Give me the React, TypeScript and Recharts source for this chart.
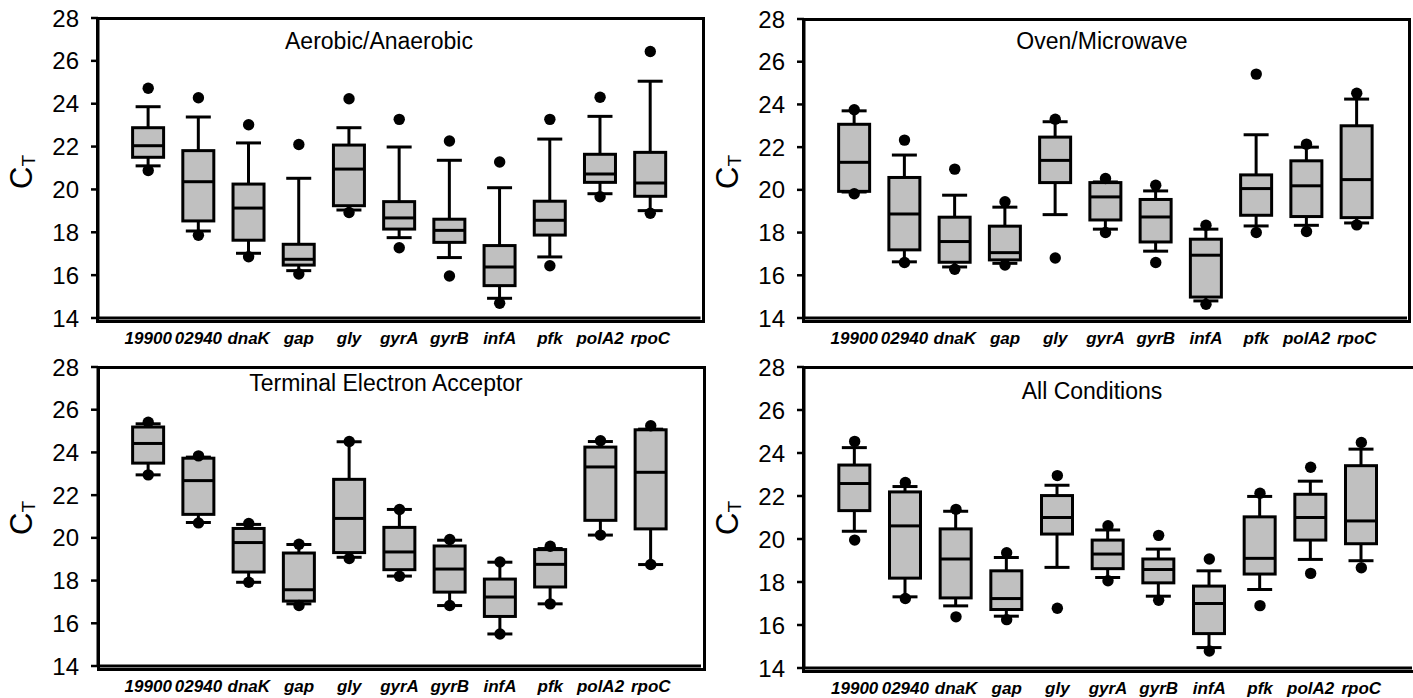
import React from 'react';
import { ComposedChart, XAxis, YAxis, Bar, Scatter } from 'recharts';

// gene targets along the x axis
const genes = ['19900', '02940', 'dnaK', 'gap', 'gly', 'gyrA', 'gyrB', 'infA', 'pfk', 'polA2', 'rpoC'];
const yTicks = [14, 16, 18, 20, 22, 24, 26, 28];

// Aerobic/Anaerobic
const aeroOutHigh = [24.72, 24.28, 23.02, 22.1, 24.23, 23.27, 22.26, 21.28, 23.27, 24.3, 26.44];
const aeroHigh = [23.86, 23.38, 22.17, 20.52, 22.88, 21.98, 21.36, 20.08, 22.35, 23.41, 25.05];
const aeroQ3 = [22.88, 21.81, 20.25, 17.44, 22.07, 19.43, 18.61, 17.38, 19.45, 21.64, 21.73];
const aeroMed = [22.04, 20.36, 19.13, 16.74, 20.95, 18.67, 18.09, 16.38, 18.56, 20.72, 20.3];
const aeroQ1 = [21.5, 18.53, 17.63, 16.47, 19.24, 18.15, 17.53, 15.51, 17.87, 20.33, 19.68];
const aeroLow = [21.1, 18.06, 17.02, 16.21, 19.04, 17.75, 16.82, 14.92, 16.85, 19.8, 19.01];
const aeroOutLow = [20.88, 17.86, 16.86, 16.05, 18.92, 17.28, 15.96, 14.69, 16.44, 19.66, 18.89];

// Oven/Microwave
const ovenOutHigh = [23.75, 22.33, 20.97, 19.44, 23.31, 20.53, 20.22, 18.34, 25.42, 22.14, 24.52];
const ovenHigh = [23.7, 21.63, 19.75, 19.19, 23.19, 20.37, 19.95, 18.16, 22.58, 22.0, 24.25];
const ovenQ3 = [23.07, 20.58, 18.72, 18.3, 22.47, 20.34, 19.55, 17.69, 20.7, 21.36, 23.0];
const ovenMed = [21.29, 18.87, 17.58, 17.06, 21.38, 19.67, 18.73, 16.94, 20.06, 20.19, 20.48];
const ovenQ1 = [19.93, 17.19, 16.61, 16.72, 20.34, 18.59, 17.56, 14.98, 18.81, 18.75, 18.7];
const ovenLow = [19.9, 16.63, 16.39, 16.56, 18.84, 18.16, 17.13, 14.8, 18.31, 18.34, 18.45];
const ovenOutLow = [19.82, 16.6, 16.28, 16.48, 16.81, 18.0, 16.6, 14.64, 18.0, 18.05, 18.36];

// Terminal Electron Acceptor
const teaOutHigh = [25.41, 23.84, 20.67, 19.7, 24.51, 21.33, 19.92, 18.87, 19.61, 24.55, 25.25];
const teaHigh = [25.34, 23.78, 20.63, 19.69, 24.5, 21.33, 19.89, 18.86, 19.5, 24.51, 25.09];
const teaQ3 = [25.19, 23.73, 20.44, 19.29, 22.74, 20.49, 19.62, 18.07, 19.45, 24.25, 25.06];
const teaMed = [24.42, 22.68, 19.78, 17.57, 20.91, 19.34, 18.54, 17.23, 18.76, 23.32, 23.07];
const teaQ1 = [23.5, 21.1, 18.4, 17.04, 19.31, 18.51, 17.46, 16.32, 17.7, 20.82, 20.42];
const teaLow = [22.95, 20.72, 17.92, 16.91, 19.09, 18.21, 16.83, 15.5, 16.91, 20.13, 18.75];
const teaOutLow = [22.95, 20.7, 17.92, 16.83, 19.03, 18.2, 16.83, 15.5, 16.91, 20.13, 18.75];

// All Conditions
const allOutHigh = [24.54, 22.63, 21.38, 19.36, 22.95, 20.62, 20.17, 19.07, 22.13, 23.34, 24.49];
const allHigh = [24.25, 22.44, 21.29, 19.14, 22.5, 20.42, 19.53, 18.52, 21.98, 22.69, 24.18];
const allQ3 = [23.44, 22.19, 20.47, 18.52, 22.02, 19.95, 19.07, 17.81, 21.03, 22.08, 23.41];
const allMed = [22.58, 20.61, 19.07, 17.23, 21.0, 19.3, 18.58, 17.0, 19.1, 21.0, 20.84];
const allQ1 = [21.32, 18.18, 17.26, 16.72, 20.23, 18.62, 17.96, 15.6, 18.37, 19.95, 19.78];
const allLow = [20.36, 17.31, 16.89, 16.41, 18.68, 18.21, 17.34, 14.95, 17.65, 19.05, 18.99];
const allOutLow = [19.95, 17.23, 16.38, 16.25, 16.78, 18.06, 17.15, 14.79, 16.9, 18.4, 18.66];

const FONT = '"Liberation Sans", Arial, Helvetica, sans-serif';

function buildRows(outHigh: number[], high: number[], q3: number[], med: number[], q1: number[], low: number[], outLow: number[]) {
    return genes.map((name, i) => ({
        name,
        outHigh: outHigh[i],
        high: high[i],
        q3: q3[i],
        med: med[i],
        q1: q1[i],
        low: low[i],
        outLow: outLow[i],
    }));
}

// the bar spans low..high whisker; scale for the inner values comes from its pixel extent
const BoxShape = (props: any) => {
    const { x, y, width, height, payload } = props;
    if (!payload || height == null) return null;
    const top = Math.min(y, y + height);
    const h = Math.abs(height);
    const per = h / (payload.high - payload.low);
    const py = (v: number) => top + (payload.high - v) * per;
    const cx = x + width / 2;
    const capW = 25;
    const boxW = 31;
    return (
        <g>
            <line x1={cx} x2={cx} y1={py(payload.high)} y2={py(payload.q3)} stroke="#000" strokeWidth={3} />
            <line x1={cx} x2={cx} y1={py(payload.q1)} y2={py(payload.low)} stroke="#000" strokeWidth={3} />
            <line x1={cx - capW / 2} x2={cx + capW / 2} y1={py(payload.high)} y2={py(payload.high)} stroke="#000" strokeWidth={3} />
            <line x1={cx - capW / 2} x2={cx + capW / 2} y1={py(payload.low)} y2={py(payload.low)} stroke="#000" strokeWidth={3} />
            <rect x={cx - boxW / 2} y={py(payload.q3)} width={boxW} height={py(payload.q1) - py(payload.q3)} fill="#c0c0c0" stroke="#000" strokeWidth={3} />
            <line x1={cx - boxW / 2} x2={cx + boxW / 2} y1={py(payload.med)} y2={py(payload.med)} stroke="#000" strokeWidth={3} />
        </g>
    );
};

const DotShape = (props: any) => {
    if (props.cx == null || props.cy == null) return null;
    return <circle cx={props.cx} cy={props.cy} r={5.7} fill="#000" />;
};

interface PanelProps {
    plotLeft: number;
    plotTop: number;
    plotW: number;
    plotH: number;
    rows: any[];
    title: string;
    titleX: number;
    titleY: number;
}

function Panel({ plotLeft, plotTop, plotW, plotH, rows, title, titleX, titleY }: PanelProps) {
    const chartW = plotW + 97 + 6;
    const chartH = plotH + 18 + 30;
    const pad = plotW / 24;
    return (
        <>
            <div style={{ position: 'absolute', left: plotLeft - 97, top: plotTop - 18, width: chartW, height: chartH }}>
                <ComposedChart width={chartW} height={chartH} data={rows} margin={{ top: 18, right: 6, left: 37, bottom: 0 }}>
                    <XAxis
                        dataKey="name"
                        type="category"
                        interval={0}
                        padding={{ left: pad, right: pad }}
                        height={30}
                        tickLine={false}
                        tickSize={0}
                        tickMargin={14}
                        axisLine={{ stroke: '#000', strokeWidth: 3 }}
                        tick={{ fontSize: 17, fontWeight: 'bold', fontStyle: 'italic', fill: '#000', fontFamily: FONT }}
                    />
                    <YAxis
                        type="number"
                        domain={[14, 28]}
                        ticks={yTicks}
                        allowDataOverflow
                        width={60}
                        tickSize={7}
                        tickMargin={12}
                        axisLine={{ stroke: '#000', strokeWidth: 3 }}
                        tickLine={{ stroke: '#000', strokeWidth: 2.5 }}
                        tick={{ fontSize: 24, fill: '#000', fontFamily: FONT }}
                    />
                    <Bar dataKey={(d: any) => [d.low, d.high]} barSize={32} isAnimationActive={false} shape={BoxShape} />
                    <Scatter dataKey="outHigh" isAnimationActive={false} shape={DotShape} />
                    <Scatter dataKey="outLow" isAnimationActive={false} shape={DotShape} />
                </ComposedChart>
            </div>
            {/* frame around the plot area */}
            <div style={{ position: 'absolute', left: plotLeft - 1.5, top: plotTop - 1.5, width: plotW, height: plotH, border: '3px solid #000', boxSizing: 'content-box', pointerEvents: 'none' }} />
            <div style={{ position: 'absolute', left: titleX, top: titleY, transform: 'translate(-50%, -50%)', whiteSpace: 'nowrap', fontFamily: FONT, fontSize: 23, color: '#000' }}>
                {title}
            </div>
        </>
    );
}

function YLabel({ x, y }: { x: number; y: number }) {
    return (
        <div style={{ position: 'absolute', left: x, top: y, transform: 'translate(-50%, -50%) rotate(-90deg)', whiteSpace: 'nowrap', fontFamily: FONT, fontSize: 31, color: '#000', lineHeight: 1 }}>
            C<span style={{ fontSize: 19, position: 'relative', top: 3 }}>T</span>
        </div>
    );
}

export default function App() {
    const aero = buildRows(aeroOutHigh, aeroHigh, aeroQ3, aeroMed, aeroQ1, aeroLow, aeroOutLow);
    const oven = buildRows(ovenOutHigh, ovenHigh, ovenQ3, ovenMed, ovenQ1, ovenLow, ovenOutLow);
    const tea = buildRows(teaOutHigh, teaHigh, teaQ3, teaMed, teaQ1, teaLow, teaOutLow);
    const all = buildRows(allOutHigh, allHigh, allQ3, allMed, allQ1, allLow, allOutLow);

    return (
        <div style={{ position: 'absolute', left: 0, top: 0, width: 1413, height: 698, background: '#fff', overflow: 'hidden' }}>
            <Panel plotLeft={97.5} plotTop={18} plotW={602.5} plotH={300} rows={aero} title="Aerobic/Anaerobic" titleX={379} titleY={41} />
            <Panel plotLeft={803.5} plotTop={19} plotW={603} plotH={299} rows={oven} title="Oven/Microwave" titleX={1102} titleY={41} />
            <Panel plotLeft={98} plotTop={367} plotW={603} plotH={299} rows={tea} title="Terminal Electron Acceptor" titleX={386} titleY={383} />
            <Panel plotLeft={803.5} plotTop={367} plotW={608} plotH={301} rows={all} title="All Conditions" titleX={1092} titleY={391} />
            <YLabel x={21} y={172} />
            <YLabel x={727} y={172} />
            <YLabel x={21} y={518} />
            <YLabel x={727} y={518} />
        </div>
    );
}
